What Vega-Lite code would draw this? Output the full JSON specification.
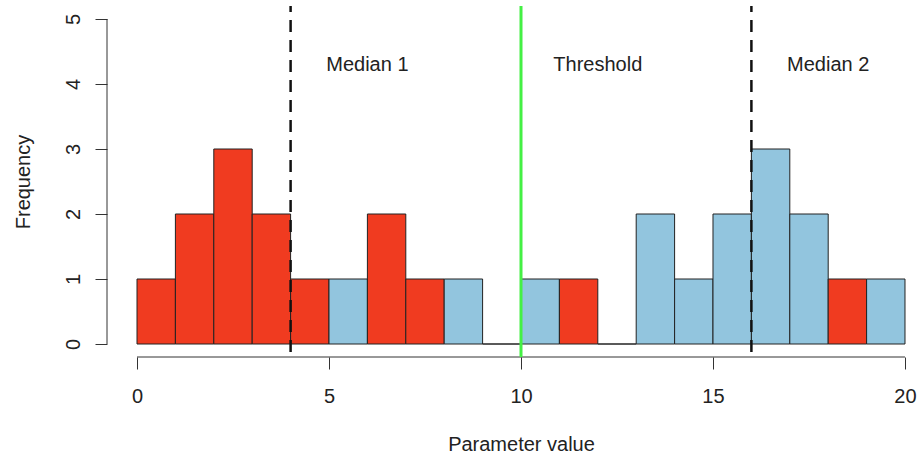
{
  "$schema": "https://vega.github.io/schema/vega-lite/v6.json",
  "width": 815,
  "height": 351,
  "autosize": {"type": "none"},
  "padding": {"left": 107, "top": 6, "right": 0, "bottom": 100},
  "background": "white",
  "config": {
    "view": {"stroke": null},
    "font": "Liberation Sans",
    "axis": {"grid": false, "domain": false, "tickColor": "#333", "tickSize": 12, "tickWidth": 1, "labelFont": "Liberation Sans", "labelFontSize": 20, "labelColor": "#222", "titleFont": "Liberation Sans", "titleFontSize": 20, "titleFontWeight": "normal", "titleColor": "#222"}
  },
  "datasets": {
    "bars": [
      {"start": 0, "end": 1, "count": 1, "group": "below"},
      {"start": 1, "end": 2, "count": 2, "group": "below"},
      {"start": 2, "end": 3, "count": 3, "group": "below"},
      {"start": 3, "end": 4, "count": 2, "group": "below"},
      {"start": 4, "end": 5, "count": 1, "group": "below"},
      {"start": 5, "end": 6, "count": 1, "group": "above"},
      {"start": 6, "end": 7, "count": 2, "group": "below"},
      {"start": 7, "end": 8, "count": 1, "group": "below"},
      {"start": 8, "end": 9, "count": 1, "group": "above"},
      {"start": 9, "end": 10, "count": 0, "group": "above"},
      {"start": 10, "end": 11, "count": 1, "group": "above"},
      {"start": 11, "end": 12, "count": 1, "group": "below"},
      {"start": 12, "end": 13, "count": 0, "group": "above"},
      {"start": 13, "end": 14, "count": 2, "group": "above"},
      {"start": 14, "end": 15, "count": 1, "group": "above"},
      {"start": 15, "end": 16, "count": 2, "group": "above"},
      {"start": 16, "end": 17, "count": 3, "group": "above"},
      {"start": 17, "end": 18, "count": 2, "group": "above"},
      {"start": 18, "end": 19, "count": 1, "group": "below"},
      {"start": 19, "end": 20, "count": 1, "group": "above"}
    ],
    "xaxisline": [{"x": 0, "x2": 20, "y": -0.2}],
    "yaxisline": [{"x": -0.78125, "y": 0, "y2": 5}],
    "medians": [{"x": 4}, {"x": 16}],
    "threshold": [{"x": 10}],
    "labels": [
      {"x": 6, "y": 4.3, "label": "Median 1"},
      {"x": 12, "y": 4.3, "label": "Threshold"},
      {"x": 18, "y": 4.3, "label": "Median 2"}
    ]
  },
  "layer": [
    {
      "data": {"name": "bars"},
      "mark": {"type": "rect", "stroke": "#222", "strokeWidth": 1},
      "encoding": {
        "x": {"field": "start", "type": "quantitative", "scale": {"domain": [-0.78125, 20.44271], "nice": false, "zero": false},
          "axis": {"values": [0, 5, 10, 15, 20], "format": "d", "title": "Parameter value", "labelPadding": 33, "labelBaseline": "alphabetic", "titleX": 414, "titleAlign": "center", "titleY": 93, "titleBaseline": "alphabetic"}},
        "x2": {"field": "end"},
        "y": {"field": "count", "type": "quantitative", "scale": {"domain": [-0.2, 5.2], "nice": false, "zero": false},
          "axis": {"values": [0, 1, 2, 3, 4, 5], "format": "d", "title": "Frequency", "labelAngle": -90, "labelAlign": "center", "labelBaseline": "alphabetic", "labelPadding": 16, "titleX": -78, "titleBaseline": "alphabetic", "titleAngle": -90}},
        "y2": {"datum": 0},
        "color": {"field": "group", "type": "nominal", "scale": {"domain": ["below", "above"], "range": ["#F03B20", "#92C5DE"]}, "legend": null}
      }
    },
    {
      "data": {"name": "xaxisline"},
      "mark": {"type": "rule", "color": "#333", "strokeWidth": 1},
      "encoding": {
        "x": {"field": "x", "type": "quantitative"},
        "x2": {"field": "x2"},
        "y": {"field": "y", "type": "quantitative"}
      }
    },
    {
      "data": {"name": "yaxisline"},
      "mark": {"type": "rule", "color": "#333", "strokeWidth": 1},
      "encoding": {
        "x": {"field": "x", "type": "quantitative"},
        "y": {"field": "y", "type": "quantitative"},
        "y2": {"field": "y2"}
      }
    },
    {
      "data": {"name": "medians"},
      "mark": {"type": "rule", "color": "#111", "strokeWidth": 2.5, "strokeDash": [12, 8], "strokeDashOffset": 6},
      "encoding": {
        "x": {"field": "x", "type": "quantitative"}
      }
    },
    {
      "data": {"name": "threshold"},
      "mark": {"type": "rule", "color": "#44F044", "strokeWidth": 3},
      "encoding": {
        "x": {"field": "x", "type": "quantitative"}
      }
    },
    {
      "data": {"name": "labels"},
      "mark": {"type": "text", "fontSize": 20, "font": "Liberation Sans", "color": "#222", "align": "center", "baseline": "middle"},
      "encoding": {
        "x": {"field": "x", "type": "quantitative"},
        "y": {"field": "y", "type": "quantitative"},
        "text": {"field": "label"}
      }
    }
  ]
}
